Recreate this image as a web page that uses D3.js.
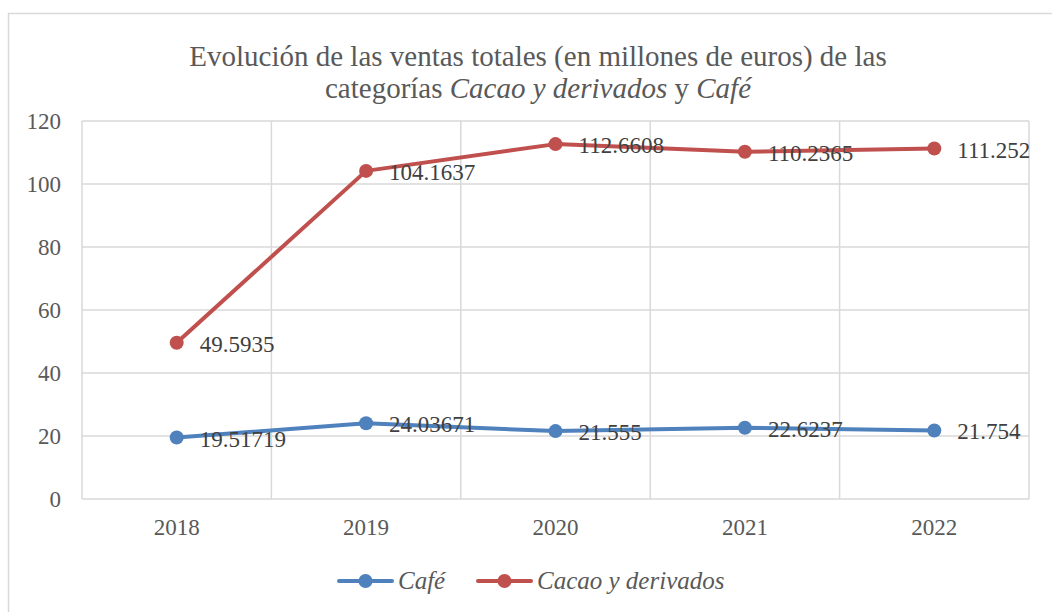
<!DOCTYPE html>
<html>
<head>
<meta charset="utf-8">
<script src="https://cdn.jsdelivr.net/npm/d3@7"></script>
<style>
  body { margin: 0; background: #fff; }
  svg text { font-family: "Liberation Serif", "Times New Roman", serif; }
</style>
</head>
<body>
<div id="cont"></div>
<script>
var years = ["2018", "2019", "2020", "2021", "2022"];
var cafe = [19.51719, 24.03671, 21.555, 22.6237, 21.754];
var cacao = [49.5935, 104.1637, 112.6608, 110.2365, 111.252];
var cafeLabels = ["19.51719", "24.03671", "21.555", "22.6237", "21.754"];
var cacaoLabels = ["49.5935", "104.1637", "112.6608", "110.2365", "111.252"];
var yTicks = [0, 20, 40, 60, 80, 100, 120];

var W = 1052, H = 612;
var plotLeft = 82, plotTop = 121, plotRight = 1029, plotBottom = 499;
var serif = "Liberation Serif, Times New Roman, serif";

var svg = d3.select("#cont").append("svg")
  .attr("width", W)
  .attr("height", H);

// chart frame
svg.append("rect")
  .attr("x", 8.5).attr("y", 13.5)
  .attr("width", W + 10).attr("height", H + 10)
  .attr("fill", "#fff")
  .attr("stroke", "#d9d9d9")
  .attr("stroke-width", 1.5);

var xScale = d3.scaleBand().domain(years).range([plotLeft, plotRight]);
var yScale = d3.scaleLinear().domain([0, 120]).range([plotBottom, plotTop]);

// grid
var g = svg.append("g");
g.selectAll(".hgrid")
  .data(yTicks)
  .enter().append("line")
  .attr("x1", plotLeft).attr("x2", plotRight)
  .attr("y1", function(d) { return yScale(d); })
  .attr("y2", function(d) { return yScale(d); })
  .attr("stroke", "#d9d9d9")
  .attr("stroke-width", 1.5);

g.selectAll(".vgrid")
  .data(years.concat(["end"]))
  .enter().append("line")
  .attr("x1", function(d, i) { return i < years.length ? xScale(d) : plotRight; })
  .attr("x2", function(d, i) { return i < years.length ? xScale(d) : plotRight; })
  .attr("y1", plotTop).attr("y2", plotBottom)
  .attr("stroke", "#d9d9d9")
  .attr("stroke-width", 1.5);

// axes
var yAxis = svg.append("g")
  .attr("transform", "translate(" + plotLeft + ",0)")
  .call(d3.axisLeft(yScale).tickValues(yTicks).tickSize(0).tickPadding(21));
yAxis.select(".domain").remove();
yAxis.selectAll("text")
  .attr("font-family", serif)
  .attr("font-size", 23)
  .attr("fill", "#595959");

var xAxis = svg.append("g")
  .attr("transform", "translate(0," + plotBottom + ")")
  .call(d3.axisBottom(xScale).tickSize(0).tickPadding(20));
xAxis.select(".domain").remove();
xAxis.selectAll("text")
  .attr("font-family", serif)
  .attr("font-size", 23)
  .attr("fill", "#595959");

// title
var title = svg.append("text")
  .attr("text-anchor", "middle")
  .attr("font-family", serif)
  .attr("font-size", 29)
  .attr("fill", "#595959");
title.append("tspan").attr("x", 538).attr("y", 66)
  .text("Evolución de las ventas totales (en millones de euros) de las");
var t2 = title.append("tspan").attr("x", 538).attr("y", 98);
t2.append("tspan").text("categorías ");
t2.append("tspan").attr("font-style", "italic").text("Cacao y derivados");
t2.append("tspan").text(" y ");
t2.append("tspan").attr("font-style", "italic").text("Café");

var series = [
  { name: "Café", values: cafe, labels: cafeLabels, color: "#4f81bd" },
  { name: "Cacao y derivados", values: cacao, labels: cacaoLabels, color: "#c0504d" }
];

var line = d3.line()
  .x(function(d, i) { return xScale(years[i]) + xScale.bandwidth() / 2; })
  .y(function(d) { return yScale(d); });

series.forEach(function(s) {
  svg.append("path")
    .datum(s.values)
    .attr("d", line)
    .attr("fill", "none")
    .attr("stroke", s.color)
    .attr("stroke-width", 4)
    .attr("stroke-linejoin", "round")
    .attr("stroke-linecap", "round");

  svg.selectAll(null)
    .data(s.values)
    .enter().append("circle")
    .attr("cx", function(d, i) { return xScale(years[i]) + xScale.bandwidth() / 2; })
    .attr("cy", function(d) { return yScale(d); })
    .attr("r", 7)
    .attr("fill", s.color);

  svg.selectAll(null)
    .data(s.values)
    .enter().append("text")
    .attr("x", function(d, i) { return xScale(years[i]) + xScale.bandwidth() / 2 + 23; })
    .attr("y", function(d) { return yScale(d) + 9; })
    .attr("font-family", serif)
    .attr("font-size", 23)
    .attr("fill", "#404040")
    .text(function(d, i) { return s.labels[i]; });
});

// legend
var legendX = [339, 478];
series.forEach(function(s, i) {
  var lg = svg.append("g").attr("transform", "translate(" + legendX[i] + ",581)");
  lg.append("line")
    .attr("x1", 0).attr("x2", 53)
    .attr("stroke", s.color).attr("stroke-width", 4)
    .attr("stroke-linecap", "round");
  lg.append("circle").attr("cx", 26.5).attr("r", 7).attr("fill", s.color);
  lg.append("text")
    .attr("x", 59).attr("y", 8)
    .attr("font-family", serif)
    .attr("font-size", 25)
    .attr("font-style", "italic")
    .attr("fill", "#595959")
    .text(s.name);
});
</script>
</body>
</html>
